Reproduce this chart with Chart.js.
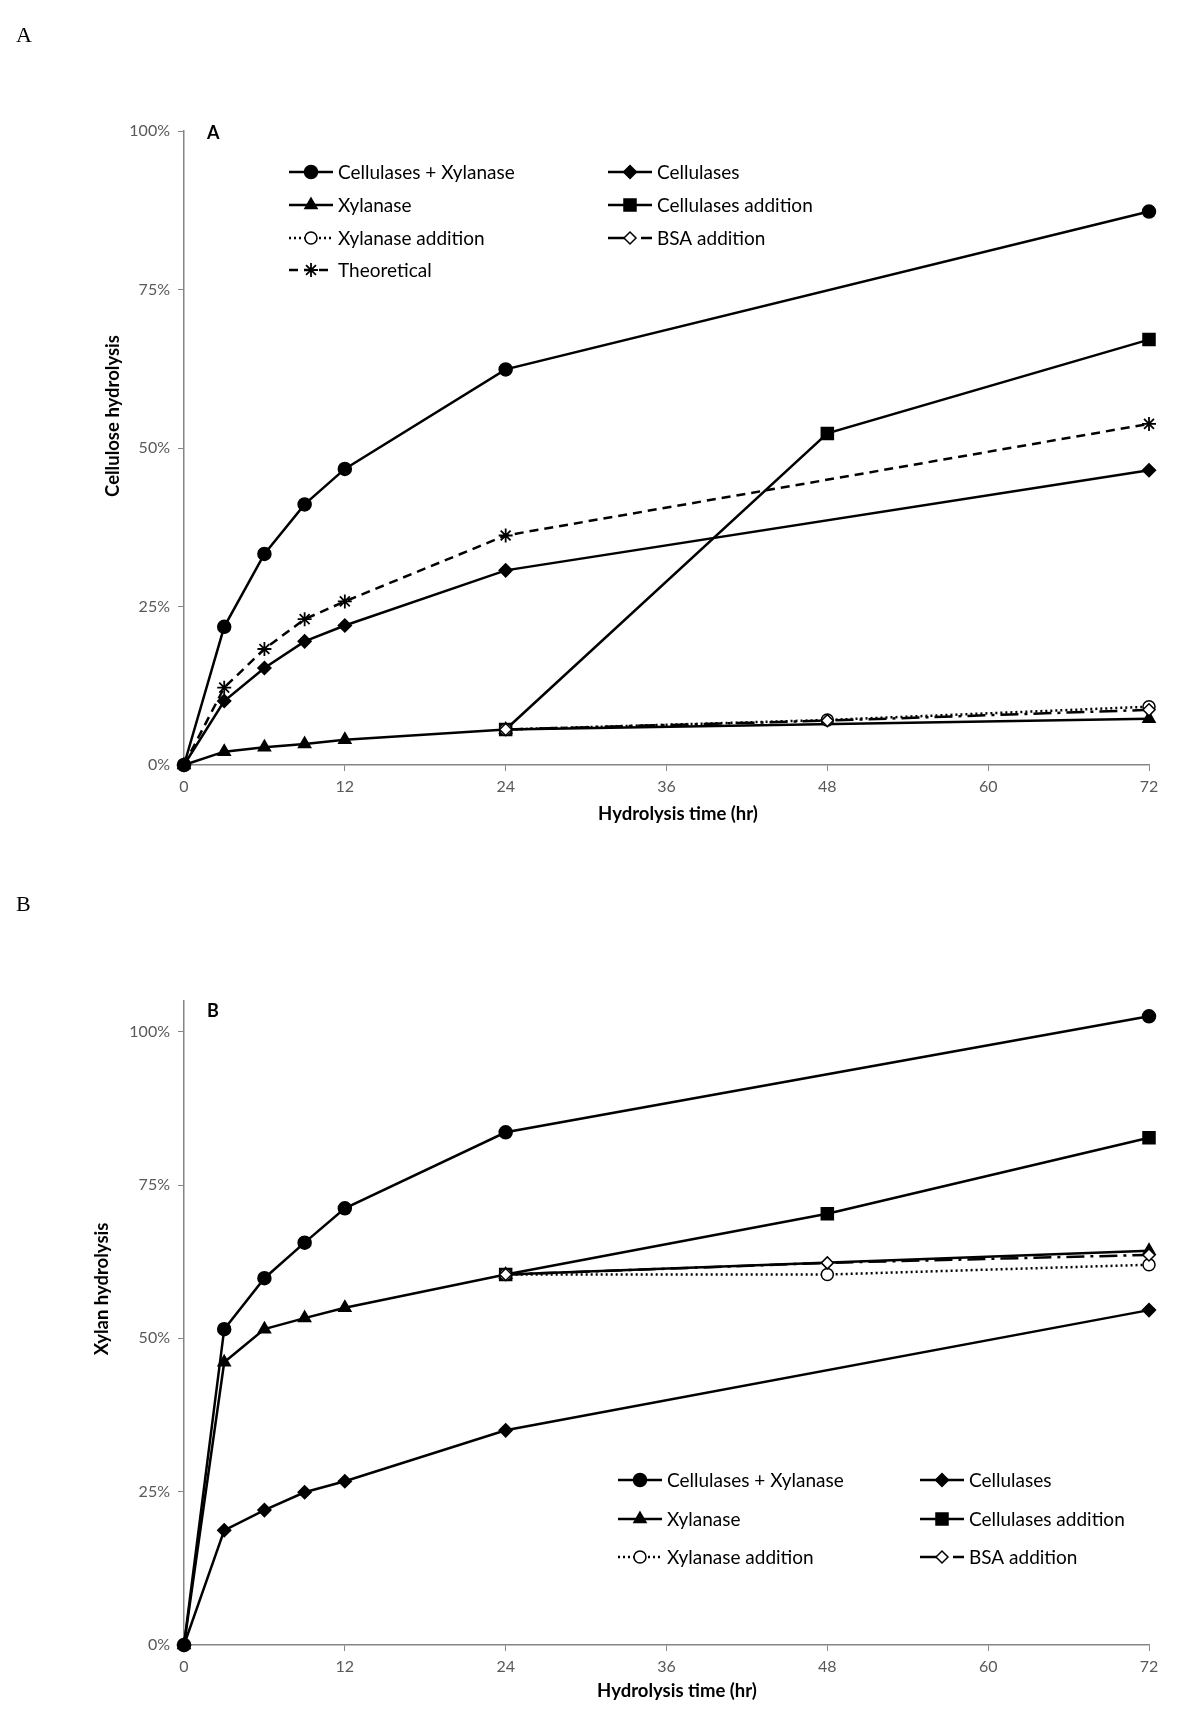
<!DOCTYPE html>
<html>
<head>
<meta charset="utf-8">
<script src="https://cdn.jsdelivr.net/npm/chart.js@4.4.1/dist/chart.umd.min.js"></script>
<style>
  body { margin: 0; background: #fff; }
  canvas { display: block; }
</style>
</head>
<body>
<canvas id="chartA" width="1200" height="866"></canvas>
<canvas id="chartB" width="1200" height="865"></canvas>
<script>
// Hydrolysis time points (hr)
const hoursMain = [0, 3, 6, 9, 12, 24, 72];
const hoursAdd = [24, 48, 72];
const xTicks = [0, 12, 24, 36, 48, 60, 72];
const yTicks = [0, 25, 50, 75, 100];

// Panel A - cellulose hydrolysis (%)
const celXylA = [0, 21.8, 33.3, 41.1, 46.7, 62.4, 87.3];
const celA = [0, 10.1, 15.3, 19.5, 22.0, 30.7, 46.5];
const xylA = [0, 2.1, 2.8, 3.3, 4.0, 5.6, 7.3];
const celAddA = [5.6, 52.3, 67.1];
const xylAddA = [5.6, 7.1, 9.2];
const bsaAddA = [5.6, 7.0, 8.7];
const theoA = [0, 12.2, 18.3, 23.0, 25.8, 36.2, 53.8];

// Panel B - xylan hydrolysis (%)
const celXylB = [0, 51.5, 59.8, 65.6, 71.2, 83.6, 102.5];
const celB = [0, 18.7, 22.0, 24.9, 26.7, 35.0, 54.6];
const xylB = [0, 46.1, 51.5, 53.3, 55.0, 60.4, 64.3];
const celAddB = [60.4, 70.3, 82.7];
const xylAddB = [60.4, 60.4, 62.0];
const bsaAddB = [60.4, 62.3, 63.6];

const labels = ['Cellulases + Xylanase', 'Cellulases', 'Xylanase', 'Cellulases addition',
                'Xylanase addition', 'BSA addition', 'Theoretical'];

const toPts = (xs, ys) => xs.map((x, i) => ({ x: x, y: ys[i] }));

function series(label, xs, ys, style, dash, fill, radius, order) {
    return {
        label: label,
        data: toPts(xs, ys),
        borderColor: '#000',
        borderWidth: 2.5,
        borderDash: dash,
        pointStyle: style,
        pointRadius: radius,
        pointBackgroundColor: fill,
        pointBorderColor: '#000',
        pointBorderWidth: 1.5,
        fill: false,
        tension: 0,
        clip: false,
        order: order
    };
}

function buildSets(cx, c, x, cAdd, xAdd, bAdd, theo) {
    const sets = [
        series(labels[0], hoursMain, cx, 'circle', [], '#000', 6.5, 5),
        series(labels[1], hoursMain, c, 'rectRot', [], '#000', 6.5, 5),
        series(labels[2], hoursMain, x, 'triangle', [], '#000', 7, 5),
        series(labels[3], hoursAdd, cAdd, 'rect', [], '#000', 8.5, 4),
        series(labels[4], hoursAdd, xAdd, 'circle', [2, 3], '#fff', 6, 2),
        series(labels[5], hoursAdd, bAdd, 'rectRot', [18, 6, 3, 6], '#fff', 6, 1)
    ];
    if (theo) {
        const t = series(labels[6], hoursMain, theo, 'star', [9, 6], '#000', 7, 3);
        t.pointBorderWidth = 1.8;
        sets.push(t);
    }
    return sets;
}

// Figure texts and the two-column legend
const figurePlugin = {
    id: 'figure',
    afterDraw(chart, args, opts) {
        const ctx = chart.ctx;
        ctx.save();
        ctx.fillStyle = '#000';
        ctx.textBaseline = 'middle';

        ctx.textAlign = 'left';
        ctx.font = '22px "Liberation Serif"';
        ctx.fillText(opts.outer.text, opts.outer.x, opts.outer.y);

        ctx.font = 'bold 18px Lato';
        ctx.fillText(opts.inner.text, opts.inner.x, opts.inner.y);

        ctx.textAlign = 'center';
        ctx.font = 'bold 18.5px Lato';
        ctx.fillText(opts.xTitle.text, opts.xTitle.x, opts.xTitle.y);

        ctx.save();
        ctx.translate(opts.yTitle.x, opts.yTitle.y);
        ctx.rotate(-Math.PI / 2);
        ctx.fillText(opts.yTitle.text, 0, 0);
        ctx.restore();

        // legend
        ctx.textAlign = 'left';
        ctx.font = '19px Lato';
        chart.data.datasets.forEach((ds, i) => {
            const p = opts.legend[i];
            if (!p) return;
            const len = 44;
            ctx.save();
            ctx.strokeStyle = '#000';
            ctx.lineWidth = ds.borderWidth;
            ctx.setLineDash(ds.borderDash || []);
            ctx.beginPath();
            ctx.moveTo(p.x, p.y);
            ctx.lineTo(p.x + len, p.y);
            ctx.stroke();
            ctx.setLineDash([]);
            ctx.fillStyle = ds.pointBackgroundColor;
            ctx.strokeStyle = ds.pointBorderColor;
            ctx.lineWidth = ds.pointBorderWidth;
            Chart.helpers.drawPoint(ctx, {
                pointStyle: ds.pointStyle,
                radius: ds.pointRadius,
                rotation: 0,
                borderWidth: ds.pointBorderWidth
            }, p.x + len / 2, p.y);
            ctx.restore();
            ctx.fillText(ds.label, p.x + len + 5, p.y + 1);
        });
        ctx.restore();
    }
};

function makeChart(id, datasets, yMax, padTop, padBottom, fig) {
    const axisColor = '#868686';
    const tickFont = { family: 'Lato', size: 16 };
    return new Chart(document.getElementById(id), {
        type: 'line',
        data: { datasets: datasets },
        plugins: [figurePlugin],
        options: {
            responsive: false,
            animation: false,
            devicePixelRatio: 1,
            layout: { padding: { left: 0, right: 51, top: padTop, bottom: padBottom } },
            plugins: {
                legend: { display: false },
                tooltip: { enabled: false },
                figure: fig
            },
            scales: {
                x: {
                    type: 'linear',
                    min: 0,
                    max: 72,
                    afterBuildTicks: s => { s.ticks = xTicks.map(v => ({ value: v })); },
                    afterFit: s => { s.height = 50; },
                    ticks: { font: tickFont, color: '#595959', padding: 6, maxRotation: 0 },
                    grid: { drawOnChartArea: false, drawTicks: true, tickLength: 6, color: axisColor },
                    border: { color: axisColor, width: 1.5 }
                },
                y: {
                    min: 0,
                    max: yMax,
                    afterBuildTicks: s => { s.ticks = yTicks.map(v => ({ value: v })); },
                    afterFit: s => { s.width = 184; },
                    ticks: {
                        font: tickFont,
                        color: '#595959',
                        padding: 8,
                        callback: v => v + '%'
                    },
                    grid: { drawOnChartArea: false, drawTicks: true, tickLength: 6, color: axisColor },
                    border: { color: axisColor, width: 1.5 }
                }
            }
        }
    });
}

const chartA = makeChart('chartA',
    buildSets(celXylA, celA, xylA, celAddA, xylAddA, bsaAddA, theoA),
    100, 131, 51, {
        outer: { text: 'A', x: 16, y: 36 },
        inner: { text: 'A', x: 207, y: 133 },
        xTitle: { text: 'Hydrolysis time (hr)', x: 678, y: 814 },
        yTitle: { text: 'Cellulose hydrolysis', x: 113, y: 416 },
        legend: [
            { x: 289, y: 172 }, { x: 608, y: 172 },
            { x: 289, y: 205 }, { x: 608, y: 205 },
            { x: 289, y: 238 }, { x: 608, y: 238 },
            { x: 289, y: 270 }
        ]
    });

const chartB = makeChart('chartB',
    buildSets(celXylB, celB, xylB, celAddB, xylAddB, bsaAddB, null),
    105, 135, 36, {
        outer: { text: 'B', x: 16, y: 39 },
        inner: { text: 'B', x: 207, y: 145 },
        xTitle: { text: 'Hydrolysis time (hr)', x: 677, y: 825 },
        yTitle: { text: 'Xylan hydrolysis', x: 102, y: 423 },
        legend: [
            { x: 618, y: 614 }, { x: 920, y: 614 },
            { x: 618, y: 653 }, { x: 920, y: 653 },
            { x: 618, y: 691 }, { x: 920, y: 691 }
        ]
    });
</script>
</body>
</html>
